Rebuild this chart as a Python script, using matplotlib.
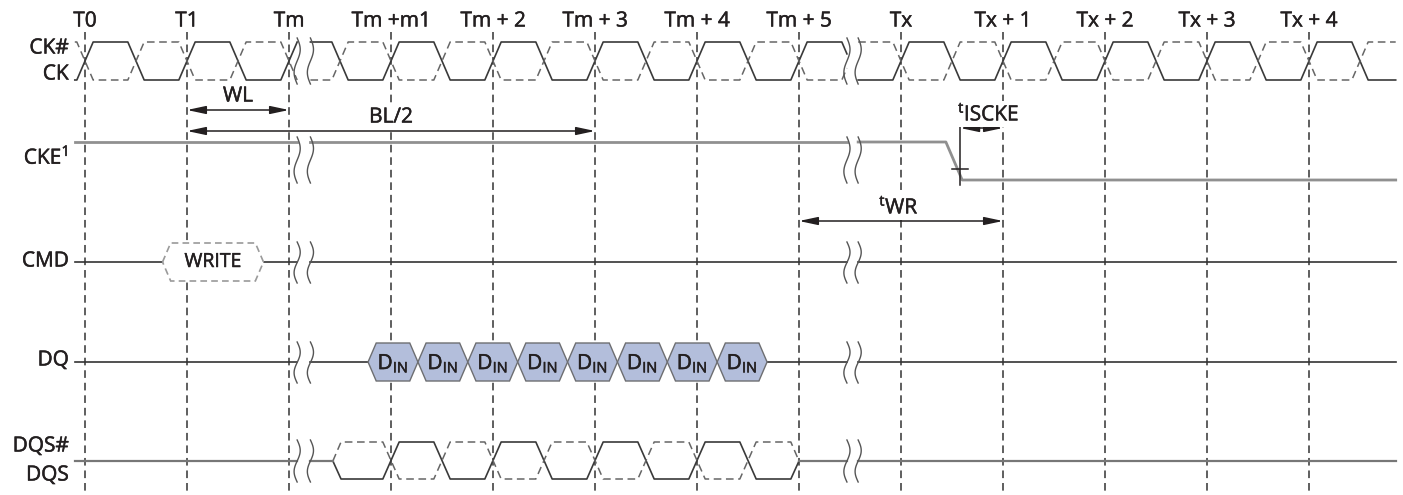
import numpy as np
import matplotlib
matplotlib.use("Agg")
import matplotlib.pyplot as plt
import matplotlib.patheffects as pe
from matplotlib.patches import Polygon

plt.rcParams["font.family"] = ["Open Sans", "DejaVu Sans"]
plt.rcParams["mathtext.fontset"] = "custom"
plt.rcParams["mathtext.rm"] = "Open Sans"
plt.rcParams["mathtext.it"] = "Open Sans"

# time axis is in clock cycles, T0 = 0
tick_labels = ["T0", "T1", "Tm", "Tm +m1", "Tm + 2", "Tm + 3", "Tm + 4", "Tm + 5",
               "Tx", "Tx + 1", "Tx + 2", "Tx + 3", "Tx + 4"]
tick_cycles = [0, 1, 2, 3, 4, 5, 6, 7, 8, 9, 10, 11, 12]
signal_names = ["CK#", "CK", "CKE$^{\\mathrm{1}}$", "CMD", "DQ", "DQS#", "DQS"]

t_start, t_end = -0.1, 12.85
breaks = [(2.08, 2.21), (7.47, 7.58)]     # the "))" marks where time is cut
clock_edges = np.arange(-1.0, 13.5, 0.5)   # rising on whole cycles, falling on halves
cke_fall = (8.44, 8.60)                    # CKE drops just before Tx + 1
write_cmd = (0.76, 1.75)                   # WRITE window around T1
din_start, din_width, din_count = 2.775, 0.489, 8
dqs_pre, dqs_edges, dqs_post = 2.43, np.arange(3.0, 7.0, 0.5), 7.0
tisck_at = 8.58
spans = [("WL", 1, 2), ("BL/2", 1, 5), ("$^{\\mathrm{t}}\\mathrm{WR}$", 7, 9),
         ("$^{\\mathrm{t}}\\mathrm{ISCKE}$", tisck_at, 9)]

INK = "#231F20"
tw = 0.08   # half width of a slanted edge
thick = [pe.withStroke(linewidth=0.35, foreground=INK)]   # the original type is a bit heavier

fig = plt.figure(figsize=(14.03, 4.95), dpi=100)
ax = fig.add_axes([0, 0, 1, 1])
ax.set_xlim(-85 / 102, (1403 - 85) / 102)
ax.set_ylim(495, 0)
ax.axis("off")


def pieces(a, b):
    # split [a, b] around the time breaks
    out, cur = [], a
    for b0, b1 in breaks:
        if a < b0 < b:
            out.append((cur, b0))
            cur = b1
    out.append((cur, b))
    return out


def edge_wave(edges, lo, hi):
    xs, ys = [-50.0], [lo]
    for e in edges:
        after = hi if float(e).is_integer() else lo
        before = lo if after == hi else hi
        xs += [e - tw, e + tw]
        ys += [before, after]
    xs.append(50.0)
    ys.append(ys[-1])
    return np.array(xs), np.array(ys)


def draw_clipped(xs, ys, a, b, **kw):
    for p0, p1 in pieces(a, b):
        inner = xs[(xs > p0) & (xs < p1)]
        xq = np.concatenate([[p0], inner, [p1]])
        ax.plot(xq, np.interp(xq, xs, ys), **kw)


def break_marks(y0, y1):
    t = np.linspace(0, 1, 40)
    for pair in breaks:
        for xc in pair:
            ax.plot(xc + 0.03 * np.sin(2 * np.pi * t), y0 + (y1 - y0) * t,
                    color="#555555", lw=1.0, zorder=4)


# vertical reference lines and cycle labels
for c, lab in zip(tick_cycles, tick_labels):
    ax.plot([c, c], [32, 495], color="#333333", lw=1.1, ls=(0, (5, 3.2)), zorder=1)
    ax.text(c, 21, lab, ha="center", va="center", fontsize=15, color=INK, path_effects=thick)

# CK / CK#
xs, ys = edge_wave(clock_edges, 80, 42)
draw_clipped(xs, ys, t_start, t_end, color="#3a3a3a", lw=1.2, zorder=2)
xs, ys = edge_wave(clock_edges, 42, 80)
draw_clipped(xs, ys, t_start, t_end, color="#666666", lw=1.1, ls=(0, (5, 3)), zorder=2)
break_marks(38, 84)

# CKE
cke_x = [-50, cke_fall[0], cke_fall[1], 50]
cke_y = [142, 142, 180, 180]
draw_clipped(np.array(cke_x, float), np.array(cke_y, float), t_start, t_end,
             color="#909090", lw=2.0, zorder=2)
break_marks(137, 183)
ax.plot([tisck_at, tisck_at], [124, 185], color=INK, lw=1.1, zorder=3)
ax.plot([tisck_at - 0.08, tisck_at + 0.08], [169, 169], color=INK, lw=1.1, zorder=3)

# CMD with WRITE
draw_clipped(np.array([-50, 50.0]), np.array([262, 262.0]), t_start, write_cmd[0],
             color="#333333", lw=1.2, zorder=2)
draw_clipped(np.array([-50, 50.0]), np.array([262, 262.0]), write_cmd[1], t_end,
             color="#333333", lw=1.2, zorder=2)
a, b = write_cmd
ax.add_patch(Polygon([(a, 262), (a + tw, 243), (b - tw, 243), (b, 262), (b - tw, 281),
                      (a + tw, 281)], closed=True, facecolor="white", edgecolor="#9a9a9a",
                     lw=1.2, ls=(0, (4, 2.5)), zorder=3))
ax.text((a + b) / 2, 262, "WRITE", ha="center", va="center", fontsize=14, color=INK,
        zorder=4, path_effects=thick)
break_marks(242, 283)

# DQ with data beats
din_end = din_start + din_width * din_count
draw_clipped(np.array([-50, 50.0]), np.array([362, 362.0]), t_start, din_start,
             color="#333333", lw=1.2, zorder=2)
draw_clipped(np.array([-50, 50.0]), np.array([362, 362.0]), din_end, t_end,
             color="#333333", lw=1.2, zorder=2)
for k in range(din_count):
    a = din_start + k * din_width
    b = a + din_width
    ax.add_patch(Polygon([(a, 362), (a + tw, 343), (b - tw, 343), (b, 362), (b - tw, 381),
                          (a + tw, 381)], closed=True, facecolor="#B3BEDB",
                         edgecolor="#6d6e71", lw=1.0, zorder=3))
    ax.text((a + b) / 2, 363, "D$_{\\mathrm{IN}}$", ha="center", va="center",
            fontsize=15, color=INK, zorder=4, path_effects=thick)
break_marks(342, 383)

# DQS / DQS#
for lo, hi, style in [(479, 442, dict(color="#3a3a3a", lw=1.2)),
                      (442, 479, dict(color="#666666", lw=1.1, ls=(0, (5, 3))))]:
    xs = [dqs_pre, dqs_pre + tw]
    ys = [461, lo]
    for e in dqs_edges:
        after = hi if float(e).is_integer() else lo
        xs += [e - tw, e + tw]
        ys += [lo if after == hi else hi, after]
    xs += [dqs_post - tw, dqs_post]
    ys += [ys[-1], 461]
    ax.plot(xs, ys, zorder=2, **style)
draw_clipped(np.array([-50, 50.0]), np.array([461, 461.0]), t_start, dqs_pre,
             color="#777777", lw=1.6, zorder=2)
draw_clipped(np.array([-50, 50.0]), np.array([461, 461.0]), dqs_post, t_end,
             color="#777777", lw=1.6, zorder=2)
break_marks(440, 482)

# timing spans
span_y = [(110, 96), (131, 117), (221, 207), (128, 114)]
for (lab, x0, x1), (ya, yt) in zip(spans, span_y):
    ax.annotate("", xy=(x1, ya), xytext=(x0, ya),
                arrowprops=dict(arrowstyle="<|-|>,head_length=0.75,head_width=0.16",
                                mutation_scale=15, color=INK, lw=1.1,
                                shrinkA=0, shrinkB=0), zorder=3)
tx = [1.5, 3.0, 7.98, 8.86]
for (lab, x0, x1), (ya, yt), xc in zip(spans, span_y, tx):
    ax.text(xc, yt, lab, ha="center", va="center", fontsize=15, color=INK, zorder=4,
            path_effects=thick, bbox=dict(facecolor="white", edgecolor="none", pad=1))

# row names on the left
label_y = [48, 74, 157, 261, 360, 446, 475]
for name, y in zip(signal_names, label_y):
    ax.text(-0.16, y, name, ha="right", va="center", fontsize=15, color=INK,
            path_effects=thick)

plt.savefig("out.png", dpi=100)
